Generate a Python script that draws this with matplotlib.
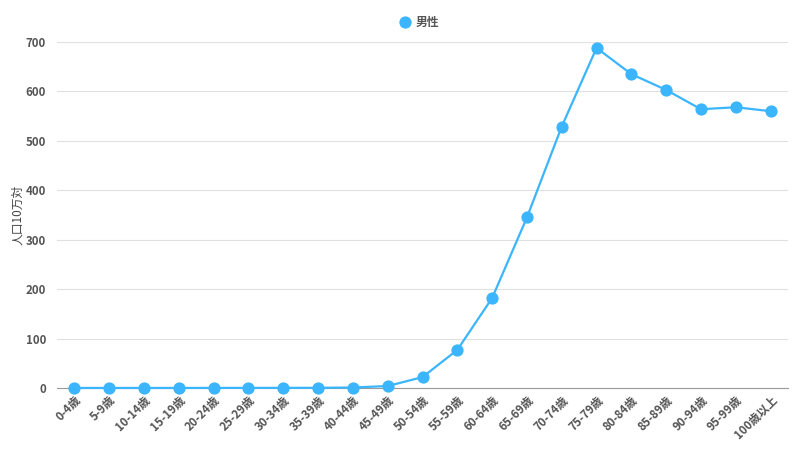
import matplotlib.pyplot as plt

plt.rcParams['font.family'] = ['Noto Sans CJK JP', 'DejaVu Sans']

age_groups = ["0-4歳", "5-9歳", "10-14歳", "15-19歳", "20-24歳", "25-29歳", "30-34歳",
              "35-39歳", "40-44歳", "45-49歳", "50-54歳", "55-59歳", "60-64歳", "65-69歳",
              "70-74歳", "75-79歳", "80-84歳", "85-89歳", "90-94歳", "95-99歳", "100歳以上"]
male = [0.1, 0.1, 0.1, 0.1, 0.2, 0.2, 0.3, 0.4, 1, 4, 22, 77, 182, 345,
        529, 688, 635, 603, 564, 568, 560]

LINE = "#3bb5fd"
TEXT = "#555555"

fig = plt.figure(figsize=(8, 4.5), dpi=100)
ax = fig.add_axes([57 / 800, 1 - 388 / 450, (788 - 57) / 800, (388 - 42) / 450])

x = range(len(age_groups))
ax.plot(x, male, color=LINE, linewidth=1.6, marker="o", markersize=7.8,
        label="男性", zorder=3, clip_on=False)

ax.set_xlim(-0.5, len(age_groups) - 0.5)
ax.set_ylim(0, 700)
ax.set_yticks(range(0, 701, 100))
ax.set_xticks(list(x))
ax.set_xticklabels(age_groups, rotation=45, ha="right", rotation_mode="anchor",
                   fontsize=8.3, color=TEXT, fontweight="bold")
for lbl in ax.get_yticklabels():
    lbl.set_fontsize(8.3)
    lbl.set_color(TEXT)
    lbl.set_fontweight("bold")

ax.grid(axis="y", color="#e0e0e0", linewidth=0.8)
ax.set_axisbelow(True)
for side in ["top", "right", "left"]:
    ax.spines[side].set_visible(False)
ax.spines["bottom"].set_color("#999999")
ax.tick_params(axis="y", length=0, pad=8)
ax.tick_params(axis="x", length=0, pad=4)

ax.set_ylabel("人口10万対", fontsize=8.5, color="#444444")
ax.yaxis.set_label_coords(-0.045, 0.5)

fig.legend(loc="upper center", bbox_to_anchor=(0.525, 0.988), frameon=False,
           labelcolor=TEXT, handlelength=0.8, handletextpad=0.5,
           prop={"weight": "bold", "size": 8.5})

plt.savefig("out.png", dpi=100)
